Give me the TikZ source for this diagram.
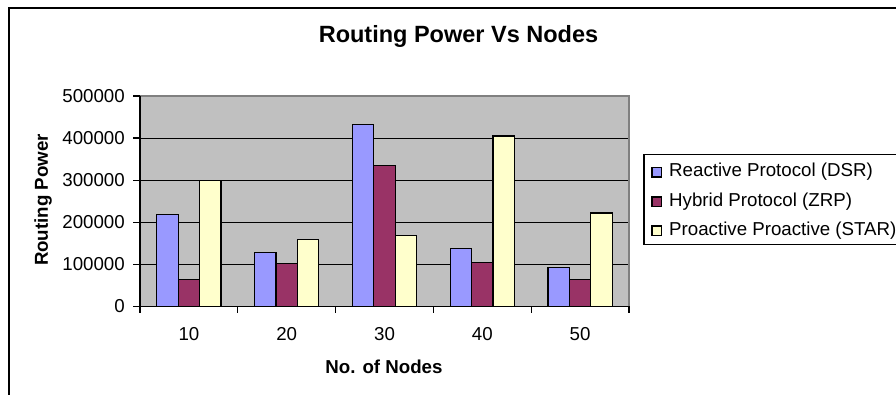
\documentclass[tikz,border=0pt]{standalone}
\usepackage{fontspec}
\setmainfont{Liberation Sans}
\definecolor{plotgrey}{HTML}{C0C0C0}
\definecolor{bordergrey}{HTML}{808080}
\definecolor{dsrblue}{HTML}{9999FF}
\definecolor{zrpmaroon}{HTML}{993366}
\definecolor{staryellow}{HTML}{FFFFCC}
\begin{document}
\begin{tikzpicture}[x=1pt,y=-1pt,
  barbox/.style={draw=black,line width=1.2pt},
  txt/.style={font=\fontsize{18.7}{20}\selectfont,inner sep=0pt},
  boldtxt/.style={font=\bfseries\fontsize{18.7}{20}\selectfont,inner sep=0pt},
  titletxt/.style={font=\bfseries\fontsize{23.5}{26}\selectfont,inner sep=0pt},
  gridline/.style={draw=black,line width=1pt},
  axisline/.style={draw=black,line width=1.2pt},
  markbox/.style={draw=black,line width=1.1pt}]
\useasboundingbox (0,0) rectangle (896,394);
\clip (0,0) rectangle (896,394);
\fill[white] (0,0) rectangle (896,394);
\draw[line width=1.6pt] (9,8) rectangle (910,410);
% title
\node[titletxt] (title) at (458.5,36.5) {Routing Power Vs Nodes};
% plot area
\fill[plotgrey] (140,96) rectangle (629,306.3);
\foreach \v in {1,2,3,4} {
  \draw[gridline] (140,{306.3-42.06*\v}) -- (629,{306.3-42.06*\v});
}
\draw[draw=bordergrey,line width=1.2pt] (140,96) -- (629,96) -- (629,306.3);
% bars
\foreach \i/\b/\m/\s in {0/219/64/300, 1/128/101/158, 2/432/335/169, 3/138/104/405, 4/92/64/222} {
  \pgfmathsetmacro{\c}{140+97.8*(\i+0.5)}
  \draw[barbox,fill=dsrblue] ({\c-32.1},306.3) rectangle ({\c-10.7},{306.3-0.4206*\b});
  \draw[barbox,fill=zrpmaroon] ({\c-10.7},306.3) rectangle ({\c+10.7},{306.3-0.4206*\m});
  \draw[barbox,fill=staryellow] ({\c+10.7},306.3) rectangle ({\c+32.1},{306.3-0.4206*\s});
}
% axes
\draw[axisline] (140,96) -- (140,306.3);
\draw[axisline] (140,306.3) -- (629,306.3);
\foreach \v/\t in {0/0,1/100000,2/200000,3/300000,4/400000,5/500000} {
  \draw[axisline] (133,{306.3-42.06*\v}) -- (140,{306.3-42.06*\v});
  \node[txt,anchor=east] (yl\v) at (125,{306.3-42.06*\v}) {\t};
}
\foreach \i in {0,...,5} {
  \draw[axisline] ({140+97.8*\i},306.3) -- ({140+97.8*\i},313);
}
\foreach \i/\t in {0/10,1/20,2/30,3/40,4/50} {
  \node[txt] (xl\i) at ({140+97.8*(\i+0.5)},334) {\t};
}
% axis titles
\node[boldtxt] (xtitle) at (384,366.5) {No. of Nodes};
\node[boldtxt,rotate=90] (ytitle) at (43,200) {Routing Power};
% legend
\draw[line width=1.1pt] (644,154.7) rectangle (920,244.7);
\draw[markbox,fill=dsrblue] (652,167.5) rectangle (661.5,177);
\node[txt,anchor=west] (l1) at (669,172) {Reactive Protocol (DSR)};
\draw[markbox,fill=zrpmaroon] (652,197) rectangle (661.5,206.5);
\node[txt,anchor=west] (l2) at (669,201.7) {Hybrid Protocol (ZRP)};
\draw[markbox,fill=staryellow] (652,226) rectangle (661.5,235.5);
\node[txt,anchor=west] (l3) at (669,230.6) {Proactive Proactive (STAR)};
\end{tikzpicture}
\end{document}
